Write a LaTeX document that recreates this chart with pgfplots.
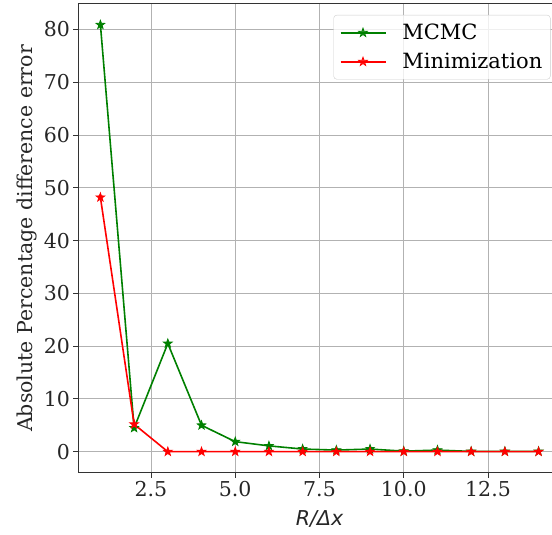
\documentclass[border=0pt]{standalone}
\usepackage{fontspec}
\setmainfont{DejaVu Serif}
\newfontfamily\dvsans{DejaVu Sans}
\usepackage{pgfplots}
\pgfplotsset{compat=1.18}
\pgfdeclareplotmark{fstar}{%
  \pgfpathmoveto{\pgfpointpolar{90}{\pgfplotmarksize}}%
  \pgfpathlineto{\pgfpointpolar{126}{0.40\pgfplotmarksize}}%
  \pgfpathlineto{\pgfpointpolar{162}{\pgfplotmarksize}}%
  \pgfpathlineto{\pgfpointpolar{198}{0.40\pgfplotmarksize}}%
  \pgfpathlineto{\pgfpointpolar{234}{\pgfplotmarksize}}%
  \pgfpathlineto{\pgfpointpolar{270}{0.40\pgfplotmarksize}}%
  \pgfpathlineto{\pgfpointpolar{306}{\pgfplotmarksize}}%
  \pgfpathlineto{\pgfpointpolar{342}{0.40\pgfplotmarksize}}%
  \pgfpathlineto{\pgfpointpolar{18}{\pgfplotmarksize}}%
  \pgfpathlineto{\pgfpointpolar{54}{0.40\pgfplotmarksize}}%
  \pgfpathclose\pgfusepathqfillstroke}
\begin{document}
\begin{tikzpicture}
\begin{axis}[
  name=ax,
  scale only axis,
  width=482pt, height=469pt,
  xmin=0.35, xmax=14.65,
  ymin=-4.04, ymax=84.84,
  xtick={2.5,5,7.5,10,12.5},
  ytick={0,10,...,80},
  xticklabel style={/pgf/number format/.cd,fixed,fixed zerofill,precision=1},
  /pgf/number format/assume math mode=true,
  tick align=outside,
  tick pos=left,
  major tick length=5pt,
  tick style={black!80, line width=0.9pt},
  axis line style={black!80, line width=1pt},
  grid=major,
  grid style={color=black!30, line width=0.9pt},
  ticklabel style={font=\fontsize{20.5}{24}\selectfont, text=black!85},
  xlabel={{\dvsans\itshape R/Δx}},
  ylabel={Absolute Percentage difference error},
  label style={font=\fontsize{20.5}{24}\selectfont, text=black!85},
  xlabel style={yshift=-7pt},
  legend style={at={(1,1)}, anchor=north east, xshift=-10pt, yshift=-11pt,
    draw=black!20, rounded corners=3pt, fill=white, fill opacity=0.8, text opacity=1,
    font=\fontsize{21}{25}\selectfont, inner xsep=6pt, inner ysep=7pt, row sep=8pt, column sep=14pt},
  legend cell align=left,
  legend image code/.code={\draw[mark repeat=2,mark phase=2,line width=1.6pt,#1] plot coordinates {(0pt,0pt) (22.5pt,0pt) (45pt,0pt)};},
]
\addplot[color={rgb,255:red,0;green,128;blue,0}, line width=1.6pt, mark=fstar, mark size=4.5pt, mark options={line width=0.8pt}]
coordinates {(1,80.9) (2,4.5) (3,20.5) (4,5.0) (5,1.9) (6,1.1) (7,0.5) (8,0.3) (9,0.5) (10,0.1) (11,0.3) (12,0.05) (13,0.05) (14,0.05)};
\addlegendentry{MCMC}
\addplot[color=red, line width=1.6pt, mark=fstar, mark size=4.5pt, mark options={line width=0.8pt}]
coordinates {(1,48.2) (2,5.2) (3,0) (4,0) (5,0) (6,0) (7,0) (8,0) (9,0) (10,0) (11,0) (12,0) (13,0) (14,0)};
\addlegendentry{Minimization}
\end{axis}
\pgfresetboundingbox
\path[use as bounding box] ([shift={(-78.5pt,-62pt)}]ax.south west) rectangle ([shift={(473.5pt,473pt)}]ax.south west);
\end{tikzpicture}
\end{document}
